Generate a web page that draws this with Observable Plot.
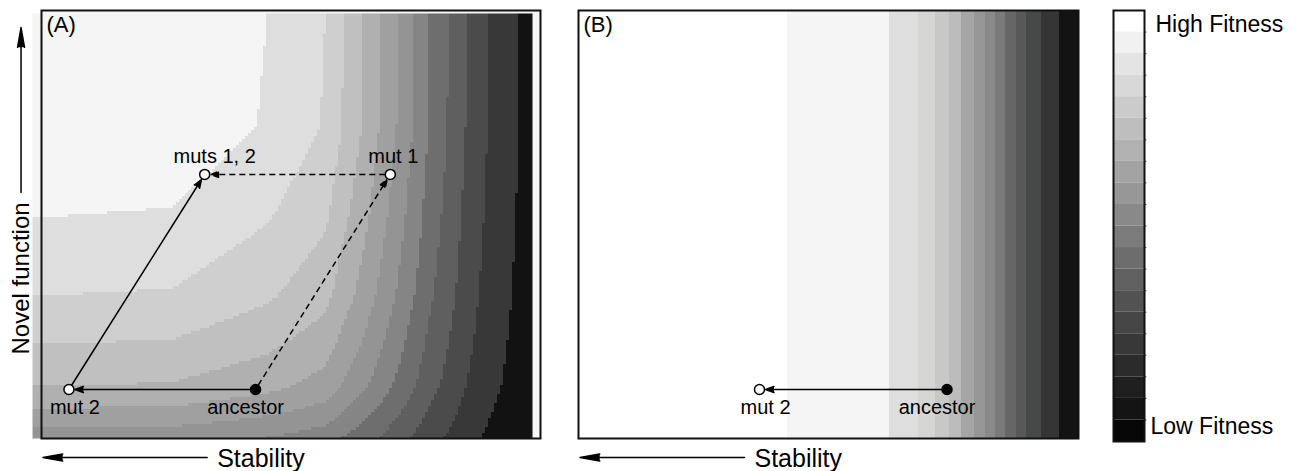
<!DOCTYPE html>
<html><head><meta charset="utf-8">
<script src="https://cdn.jsdelivr.net/npm/d3@7"></script>
<script src="https://cdn.jsdelivr.net/npm/@observablehq/plot@0.6"></script>
<style>
html,body{margin:0;padding:0;background:#fff;}
#chart{position:relative;width:1298px;height:471px;overflow:hidden;}
#chart svg{position:absolute;top:0;}
</style></head><body><div id="chart"></div>
<script>
// ---------------- data ----------------
// Panel A: fitness landscape profiles. Along the top edge (stability axis) and the left edge (function axis).
const topProfileStability = [0, 26, 45.3, 56.9, 60.5, 64.5, 67.9, 71.3, 74.5, 77.6, 81.4, 85.0, 89.4, 95.6];
const topProfileFitness   = [1, 0.992, 0.925, 0.85, 0.775, 0.7, 0.625, 0.55, 0.475, 0.4, 0.325, 0.25, 0.175, 0.1];
const leftProfileFunction = [99.3, 73, 51.6, 33.4, 22.2, 12.4, 7.2, 2.6];
const leftProfileFitness  = [1, 0.992, 0.925, 0.85, 0.775, 0.7, 0.625, 0.55];
const bandThresholdsA = [0.1, 0.175, 0.25, 0.325, 0.4, 0.475, 0.55, 0.625, 0.7, 0.775, 0.85, 0.925];
const bandColorsA = ["#121212","#383838","#4b4b4b","#5f5f5f","#6e6e6e","#858585","#949494","#a0a0a0","#b0b0b0","#c0c0c0","#cfcfcf","#dedede","#f4f5f4"];

// Panel B: fitness depends on stability only (band edges along stability)
const bandEdgesB = [41.8, 62.2, 68, 71.4, 74.2, 76.6, 79.2, 81.4, 83.4, 85.4, 87.6, 89.6, 92.6, 96.2];
const bandColorsB = ["#ffffff","#f4f5f4","#dedede","#d5d5d3","#c8c8c8","#bcbcbc","#a5a5a5","#969696","#8a8a8a","#7a7a7a","#666666","#585858","#474848","#353535","#131313"];

// Genotypes
const genotypesA = ["ancestor", "mut 1", "mut 2", "muts 1, 2"];
const stabilityA = [42.9, 69.9, 5.5, 32.7];
const functionA  = [11.45, 61.7, 11.45, 61.7];
const genotypesB = ["ancestor", "mut 2"];
const stabilityB = [73.7, 36.2];
const functionB  = [11.45, 11.45];
const solidStepsA  = [["ancestor", "mut 2"], ["mut 2", "muts 1, 2"]];
const dashedStepsA = [["ancestor", "mut 1"], ["mut 1", "muts 1, 2"]];
const solidStepsB  = [["ancestor", "mut 2"]];

// Colour bar
const colorbarColors = ["#ffffff","#f1f1f1","#e4e4e4","#d8d8d8","#cbcbcb","#bebebe","#b1b1b1","#a3a3a3","#979797","#898989","#7b7b7b","#6d6d6d","#606060","#525252","#454545","#383838","#2b2b2b","#1f1f1f","#141414","#060606"];
const colorbarLabels = ["High Fitness", "Low Fitness"];

const panelLabels = ["(A)", "(B)"];
const axisTitles = ["Stability", "Novel function"];

// ---------------- helpers ----------------
const FONT = '"Liberation Sans", Arial, Helvetica, sans-serif';
const style = {fontFamily: FONT, background: "transparent", overflow: "visible", color: "black"};
const table = (names, xs, ys) => names.map((n, i) => ({name: n, x: xs[i], y: ys[i]}));
const segments = (steps, pts) => {
  const by = Object.fromEntries(pts.map(d => [d.name, d]));
  return steps.map(([a, b]) => ({x1: by[a].x, y1: by[a].y, x2: by[b].x, y2: by[b].y}));
};
// annotation placement (data units, outside the frame)
const AX = {stabY: -4.45, stabTip: 0.3, stabTail: 33.2, stabText: 35.2, funcX: -4.1, funcTail: 57.5, funcTip: 96, funcText: 37.4};

function pointMarks(pts, steps, dashedSteps) {
  const marks = [];
  const arrowOpts = {x1: "x1", y1: "y1", x2: "x2", y2: "y2", stroke: "black", fill: "black",
    strokeWidth: 1.5, headLength: 9, headAngle: 40, insetStart: 5, insetEnd: 6};
  marks.push(Plot.arrow(segments(steps, pts), arrowOpts));
  if (dashedSteps) marks.push(Plot.arrow(segments(dashedSteps, pts), {...arrowOpts, strokeDasharray: "6,4", strokeLinecap: "butt"}));
  marks.push(Plot.dot(pts.filter(d => d.name === "ancestor"), {x: "x", y: "y", r: 5, fill: "black", stroke: "black", strokeWidth: 1.5}));
  marks.push(Plot.dot(pts.filter(d => d.name !== "ancestor"), {x: "x", y: "y", r: 5, fill: "white", stroke: "black", strokeWidth: 1.5}));
  const lab = (name, dx, dy) => Plot.text(pts.filter(d => d.name === name), {x: "x", y: "y", text: "name", dx, dy, fontSize: 20, lineAnchor: "middle", fill: "black"});
  marks.push(lab("muts 1, 2", 10, -18), lab("mut 1", 3, -18), lab("mut 2", 6, 18), lab("ancestor", -10, 18));
  return marks;
}

function stabilityAxis() {
  return [
    Plot.arrow([0], {x1: () => AX.stabTail, x2: () => AX.stabTip, y1: () => AX.stabY, y2: () => AX.stabY,
      stroke: "black", fill: "black", strokeWidth: 1.5, headLength: 20, headAngle: 20, clip: false}),
    Plot.text([axisTitles[0]], {x: () => AX.stabText, y: () => AX.stabY, textAnchor: "start", lineAnchor: "middle", dy: 1, fontSize: 25, fill: "black"})
  ];
}

// ---------------- Panel A ----------------
const F = d3.scaleLinear().domain(topProfileStability).range(topProfileFitness);
const G = d3.scaleLinear().domain(leftProfileFunction).range(leftProfileFitness);
const ptsA = table(genotypesA, stabilityA, functionA);

const plotA = Plot.plot({
  width: 550, height: 471,
  marginLeft: 41, marginRight: 10, marginTop: 10, marginBottom: 33,
  x: {domain: [0, 100], axis: null},
  y: {domain: [0, 100], axis: null},
  color: {type: "threshold", domain: bandThresholdsA, range: bandColorsA},
  style,
  marks: [
    Plot.frame({fill: "#f6f6f6", stroke: "none"}),
    Plot.raster({fill: (x, y) => F(x) * G(y), x1: -1.8, x2: 98.4, y1: 0, y2: 99.3, width: 167, height: 142, imageRendering: "pixelated"}),
    Plot.frame({stroke: "#111", strokeWidth: 2}),
    ...pointMarks(ptsA, solidStepsA, dashedStepsA),
    Plot.text([panelLabels[0]], {frameAnchor: "top-left", dx: 5, dy: 6, lineAnchor: "top", textAnchor: "start", fontSize: 22, fill: "black"}),
    ...stabilityAxis(),
    Plot.arrow([0], {x1: () => AX.funcX, x2: () => AX.funcX, y1: () => AX.funcTail, y2: () => AX.funcTip,
      stroke: "black", fill: "black", strokeWidth: 1.5, headLength: 20, headAngle: 20}),
    Plot.text([axisTitles[1]], {x: () => AX.funcX, y: () => AX.funcText, rotate: -90, textAnchor: "middle", lineAnchor: "middle", fontSize: 24, fill: "black"})
  ]
});

// ---------------- Panel B ----------------
const bandsB = bandColorsB.map((c, i) => ({x1: i === 0 ? 0 : bandEdgesB[i - 1], x2: i === bandEdgesB.length ? 100 : bandEdgesB[i], color: c}));
const ptsB = table(genotypesB, stabilityB, functionB);
const plotB = Plot.plot({
  width: 550, height: 471,
  marginLeft: 28, marginRight: 22, marginTop: 10, marginBottom: 33,
  x: {domain: [0, 100], axis: null},
  y: {domain: [0, 100], axis: null},
  color: {type: "identity"},
  style,
  marks: [
    Plot.rect(bandsB, {x1: "x1", x2: "x2", fill: "color"}),
    Plot.frame({stroke: "#111", strokeWidth: 2}),
    ...pointMarks(ptsB, solidStepsB, null),
    Plot.text([panelLabels[1]], {frameAnchor: "top-left", dx: 5, dy: 6, lineAnchor: "top", textAnchor: "start", fontSize: 22, fill: "black"}),
    ...stabilityAxis()
  ]
});

// ---------------- Colour bar ----------------
const cb = colorbarColors.map((c, i) => ({y1: i, y2: i + 1, color: c}));
const plotC = Plot.plot({
  width: 198, height: 471,
  marginLeft: 13, marginRight: 154, marginTop: 10, marginBottom: 30,
  x: {domain: [0, 1], axis: null},
  y: {domain: [0, colorbarColors.length], reverse: true, axis: null},
  color: {type: "identity"},
  style,
  marks: [
    Plot.rect(cb, {y1: "y1", y2: "y2", fill: "color"}),
    Plot.ruleY(d3.range(1, colorbarColors.length), {x1: 1, x2: 1.08, stroke: "#555", strokeWidth: 1, clip: false}),
    Plot.frame({stroke: "#111", strokeWidth: 2}),
    Plot.text([colorbarLabels[0]], {frameAnchor: "top-right", dx: 11, dy: 14, textAnchor: "start", lineAnchor: "middle", fontSize: 23, fill: "black"}),
    Plot.text([colorbarLabels[1]], {frameAnchor: "bottom-right", dx: 6, dy: -15, textAnchor: "start", lineAnchor: "middle", fontSize: 23, fill: "black"})
  ]
});

const host = document.getElementById("chart");
[[plotA, 0], [plotB, 550], [plotC, 1100]].forEach(([p, left]) => { p.style.left = left + "px"; host.appendChild(p); });
</script>
</body></html>
